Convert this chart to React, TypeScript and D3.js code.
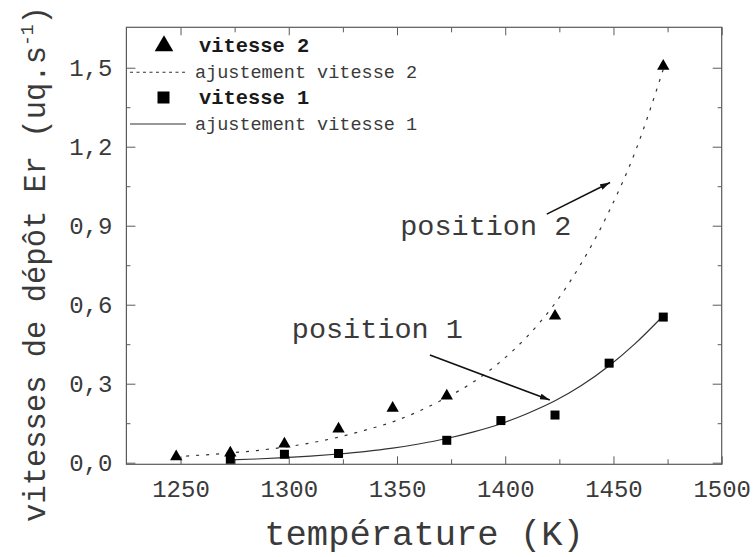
import React, { useEffect, useRef } from "react";
import * as d3 from "d3";

const W = 756;
const H = 557;
const PLOT = { left: 126.4, right: 721.7, top: 27.3, bottom: 464.3 };

// measured data: vitesse 2 (triangles)
const tempV2 = [1248, 1273, 1298, 1323, 1348, 1373, 1423, 1473];
const vitesse2 = [0.023, 0.037, 0.071, 0.128, 0.207, 0.254, 0.557, 1.506];
// measured data: vitesse 1 (squares)
const tempV1 = [1273, 1298, 1323, 1373, 1398, 1423, 1448, 1473];
const vitesse1 = [0.013, 0.032, 0.035, 0.085, 0.16, 0.181, 0.378, 0.553];

// fitted curves
const fitTemp2 = [1248, 1260, 1273, 1285, 1298, 1310, 1323, 1335, 1348, 1360, 1373, 1385, 1398, 1410, 1423, 1435, 1448, 1460, 1473];
const fitV2 = [0.023, 0.029, 0.037, 0.046, 0.059, 0.075, 0.097, 0.123, 0.155, 0.195, 0.248, 0.305, 0.385, 0.478, 0.605, 0.755, 0.955, 1.18, 1.494];
const fitTemp1 = [1273, 1285, 1298, 1310, 1323, 1335, 1348, 1360, 1373, 1385, 1398, 1410, 1423, 1435, 1448, 1460, 1473];
const fitV1 = [0.011, 0.014, 0.019, 0.025, 0.033, 0.042, 0.055, 0.071, 0.092, 0.116, 0.148, 0.186, 0.235, 0.292, 0.368, 0.452, 0.558];

const xMajorTicks = [1250, 1300, 1350, 1400, 1450, 1500];
const xMinorTicks = [1275, 1325, 1375, 1425, 1475];
const yMajorTicks = [0, 0.3, 0.6, 0.9, 1.2, 1.5];
const yMinorTicks = [0.15, 0.45, 0.75, 1.05, 1.35];

const legendLabels = ["vitesse 2", "ajustement vitesse 2", "vitesse 1", "ajustement vitesse 1"];
const xTitle = "température (K)";
const yTitle = "vitesses de dépôt Er (uq.s";
const annotations = [
  { text: "position 2", tx: 1351.5, ty: 0.865, fromX: 1419.2, fromY: 0.944, toX: 1448.4, toY: 1.064 },
  { text: "position 1", tx: 1301.4, ty: 0.472, fromX: 1365.2, fromY: 0.409, toX: 1420.6, toY: 0.238 },
];

const FONT = "'Liberation Mono', 'Courier New', monospace";
const TEXT = "#3a3a3a";
const AXIS = "#5a5a5a";
const LINE = "#333";

export default function App() {
  const ref = useRef<SVGSVGElement | null>(null);

  useEffect(() => {
    const svg = d3.select(ref.current);
    svg.selectAll("*").remove();

    const x = d3.scaleLinear().domain([1225, 1500]).range([PLOT.left, PLOT.right]);
    const y = d3.scaleLinear().domain([-0.0061, 1.6535]).range([PLOT.bottom, PLOT.top]);
    const loc = d3.formatLocale({ decimal: ",", thousands: "", grouping: [3], currency: ["", ""] });
    const fy = loc.format(".1f");

    const defs = svg.append("defs");
    defs
      .append("marker")
      .attr("id", "arrow")
      .attr("viewBox", "0 0 10 6")
      .attr("refX", 10)
      .attr("refY", 3)
      .attr("markerWidth", 10)
      .attr("markerHeight", 6)
      .attr("markerUnits", "userSpaceOnUse")
      .attr("orient", "auto")
      .append("path")
      .attr("d", "M0,0 L10,3 L0,6 Z")
      .attr("fill", "#111");

    // axes with inward ticks
    const gBottom = svg.append("g").attr("transform", `translate(0,${PLOT.bottom})`);
    gBottom.call(d3.axisBottom(x).tickValues(xMajorTicks).tickSize(-8).tickPadding(16).tickFormat(d3.format("d")));
    gBottom.append("g").call(d3.axisBottom(x).tickValues(xMinorTicks).tickSize(-5).tickFormat(() => ""));

    const gTop = svg.append("g").attr("transform", `translate(0,${PLOT.top})`);
    gTop.call(d3.axisTop(x).tickValues(xMajorTicks).tickSize(-8).tickFormat(() => ""));
    gTop.append("g").call(d3.axisTop(x).tickValues(xMinorTicks).tickSize(-5).tickFormat(() => ""));

    const gLeft = svg.append("g").attr("transform", `translate(${PLOT.left},0)`);
    gLeft.call(d3.axisLeft(y).tickValues(yMajorTicks).tickSize(-9).tickPadding(14).tickFormat((d) => fy(d as number)));
    gLeft.append("g").call(d3.axisLeft(y).tickValues(yMinorTicks).tickSize(-4).tickFormat(() => ""));

    const gRight = svg.append("g").attr("transform", `translate(${PLOT.right},0)`);
    gRight.call(d3.axisRight(y).tickValues(yMajorTicks).tickSize(-9).tickFormat(() => ""));
    gRight.append("g").call(d3.axisRight(y).tickValues(yMinorTicks).tickSize(-4).tickFormat(() => ""));

    svg.selectAll(".domain").remove();
    svg.selectAll(".tick line").attr("stroke", AXIS).attr("stroke-width", 1);
    svg
      .selectAll(".tick text")
      .attr("font-family", FONT)
      .attr("font-size", 24)
      .attr("fill", TEXT);

    svg
      .append("rect")
      .attr("x", PLOT.left)
      .attr("y", PLOT.top)
      .attr("width", PLOT.right - PLOT.left)
      .attr("height", PLOT.bottom - PLOT.top)
      .attr("fill", "none")
      .attr("stroke", AXIS)
      .attr("stroke-width", 1.2);

    // fit curves
    const line = d3
      .line<[number, number]>()
      .x((d) => x(d[0]))
      .y((d) => y(d[1]))
      .curve(d3.curveMonotoneX);
    svg
      .append("path")
      .attr("d", line(fitTemp2.map((t, i) => [t, fitV2[i]] as [number, number])))
      .attr("fill", "none")
      .attr("stroke", LINE)
      .attr("stroke-width", 1.2)
      .attr("stroke-dasharray", "3,7");
    svg
      .append("path")
      .attr("d", line(fitTemp1.map((t, i) => [t, fitV1[i]] as [number, number])))
      .attr("fill", "none")
      .attr("stroke", LINE)
      .attr("stroke-width", 1.2);

    // markers
    const tri = d3.symbol().type(d3.symbolTriangle).size(66);
    svg
      .append("g")
      .selectAll("path")
      .data(tempV2.map((t, i) => [t, vitesse2[i]]))
      .join("path")
      .attr("d", tri)
      .attr("transform", (d) => `translate(${x(d[0])},${y(d[1])})`)
      .attr("fill", "#000");
    svg
      .append("g")
      .selectAll("rect")
      .data(tempV1.map((t, i) => [t, vitesse1[i]]))
      .join("rect")
      .attr("x", (d) => x(d[0]) - 4.5)
      .attr("y", (d) => y(d[1]) - 4.5)
      .attr("width", 9)
      .attr("height", 9)
      .attr("fill", "#000");

    // annotations
    annotations.forEach((a) => {
      svg
        .append("text")
        .attr("x", x(a.tx))
        .attr("y", y(a.ty))
        .attr("font-family", FONT)
        .attr("font-size", 28.5)
        .attr("fill", TEXT)
        .text(a.text);
      svg
        .append("line")
        .attr("x1", x(a.fromX))
        .attr("y1", y(a.fromY))
        .attr("x2", x(a.toX))
        .attr("y2", y(a.toY))
        .attr("stroke", "#111")
        .attr("stroke-width", 1.6)
        .attr("marker-end", "url(#arrow)");
    });

    // legend
    const lg = svg.append("g");
    lg.append("path")
      .attr("d", d3.symbol().type(d3.symbolTriangle).size(150)())
      .attr("transform", "translate(164,46)")
      .attr("fill", "#000");
    lg.append("line").attr("x1", 130).attr("x2", 186).attr("y1", 72.3).attr("y2", 72.3)
      .attr("stroke", LINE).attr("stroke-width", 1.1).attr("stroke-dasharray", "3,3.5");
    lg.append("rect").attr("x", 157.5).attr("y", 91.5).attr("width", 12).attr("height", 12).attr("fill", "#000");
    lg.append("line").attr("x1", 130).attr("x2", 186).attr("y1", 124).attr("y2", 124)
      .attr("stroke", LINE).attr("stroke-width", 1.1);
    const legY = [51.7, 77.8, 104, 130];
    legendLabels.forEach((l, i) => {
      const bold = i % 2 === 0;
      lg.append("text")
        .attr("x", bold ? 199 : 195)
        .attr("y", legY[i])
        .attr("font-family", FONT)
        .attr("font-size", bold ? 20.4 : 18.5)
        .attr("font-weight", bold ? "bold" : "normal")
        .attr("fill", bold ? "#1a1a1a" : TEXT)
        .text(l);
    });

    // axis titles
    svg
      .append("text")
      .attr("x", (PLOT.left + PLOT.right) / 2)
      .attr("y", 545)
      .attr("text-anchor", "middle")
      .attr("font-family", FONT)
      .attr("font-size", 35.5)
      .attr("fill", TEXT)
      .text(xTitle);

    const yt = svg
      .append("text")
      .attr("transform", "translate(45,264) rotate(-90)")
      .attr("text-anchor", "middle")
      .attr("font-family", FONT)
      .attr("font-size", 30.5)
      .attr("fill", TEXT);
    yt.append("tspan").text(yTitle);
    yt.append("tspan").attr("font-size", 18).attr("dy", -12).text("-1");
    yt.append("tspan").attr("dy", 12).text(")");
  }, []);

  return (
    <svg
      ref={ref}
      width={W}
      height={H}
      style={{ position: "absolute", left: 0, top: 0, background: "#fff" }}
    />
  );
}
